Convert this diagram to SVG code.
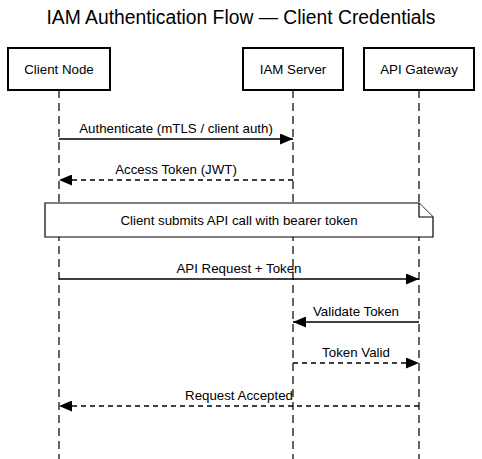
<svg xmlns="http://www.w3.org/2000/svg" width="482" height="459" viewBox="0 0 482 459">
<style>
text{font-family:"Liberation Sans",Arial,sans-serif;fill:#000}
.title{font-size:19.3px}
.lbl{font-size:13.3px}
.box{fill:#fff;stroke:#000;stroke-width:2}
.life{stroke:#333;stroke-width:1.5;stroke-dasharray:8,5;fill:none}
.msg{stroke:#000;stroke-width:1.3;fill:none}
.dash{stroke-dasharray:5,4}
.note{fill:#fff;stroke:#000;stroke-width:1.2}
</style>
<defs>
<marker id="ah" viewBox="0 0 13 11" refX="13" refY="5.5" markerWidth="13" markerHeight="11" markerUnits="userSpaceOnUse" orient="auto">
<path d="M0,0 L13,5.5 L0,11 Z" fill="#000"/>
</marker>
</defs>
<rect width="482" height="459" fill="#fff"/>
<text class="title" x="241" y="24" text-anchor="middle">IAM Authentication Flow — Client Credentials</text>
<g id="lifelines">
<line class="life" x1="59" y1="90" x2="59" y2="459"/>
<line class="life" x1="293" y1="90" x2="293" y2="459"/>
<line class="life" x1="419" y1="90" x2="419" y2="459"/>
</g>
<g id="client-node">
<rect class="box" x="8" y="48" width="102" height="42"/>
<text class="lbl" x="59" y="74" text-anchor="middle">Client Node</text>
</g>
<g id="iam-server">
<rect class="box" x="243" y="48" width="100" height="42"/>
<text class="lbl" x="293" y="74" text-anchor="middle">IAM Server</text>
</g>
<g id="api-gateway">
<rect class="box" x="364" y="48" width="110" height="42"/>
<text class="lbl" x="419" y="74" text-anchor="middle">API Gateway</text>
</g>
<g id="connectors">
<line class="msg" x1="59" y1="139" x2="293" y2="139" marker-end="url(#ah)"/>
<text class="lbl" x="176" y="133" text-anchor="middle">Authenticate (mTLS / client auth)</text>
<line class="msg dash" x1="293" y1="180" x2="59" y2="180" marker-end="url(#ah)"/>
<text class="lbl" x="176" y="174" text-anchor="middle">Access Token (JWT)</text>
<line class="msg" x1="59" y1="279" x2="419" y2="279" marker-end="url(#ah)"/>
<text class="lbl" x="239" y="273" text-anchor="middle">API Request + Token</text>
<line class="msg" x1="419" y1="322" x2="293" y2="322" marker-end="url(#ah)"/>
<text class="lbl" x="356" y="316" text-anchor="middle">Validate Token</text>
<line class="msg dash" x1="293" y1="363" x2="419" y2="363" marker-end="url(#ah)"/>
<text class="lbl" x="356" y="357" text-anchor="middle">Token Valid</text>
<line class="msg dash" x1="419" y1="406" x2="59" y2="406" marker-end="url(#ah)"/>
<text class="lbl" x="239" y="400" text-anchor="middle">Request Accepted</text>
</g>
<g id="note">
<path class="note" d="M45,203 L419,203 L433,217 L433,237 L45,237 Z"/>
<path class="note" d="M419,203 L419,217 L433,217" fill="none"/>
<text class="lbl" x="239" y="225" text-anchor="middle">Client submits API call with bearer token</text>
</g>
</svg>
